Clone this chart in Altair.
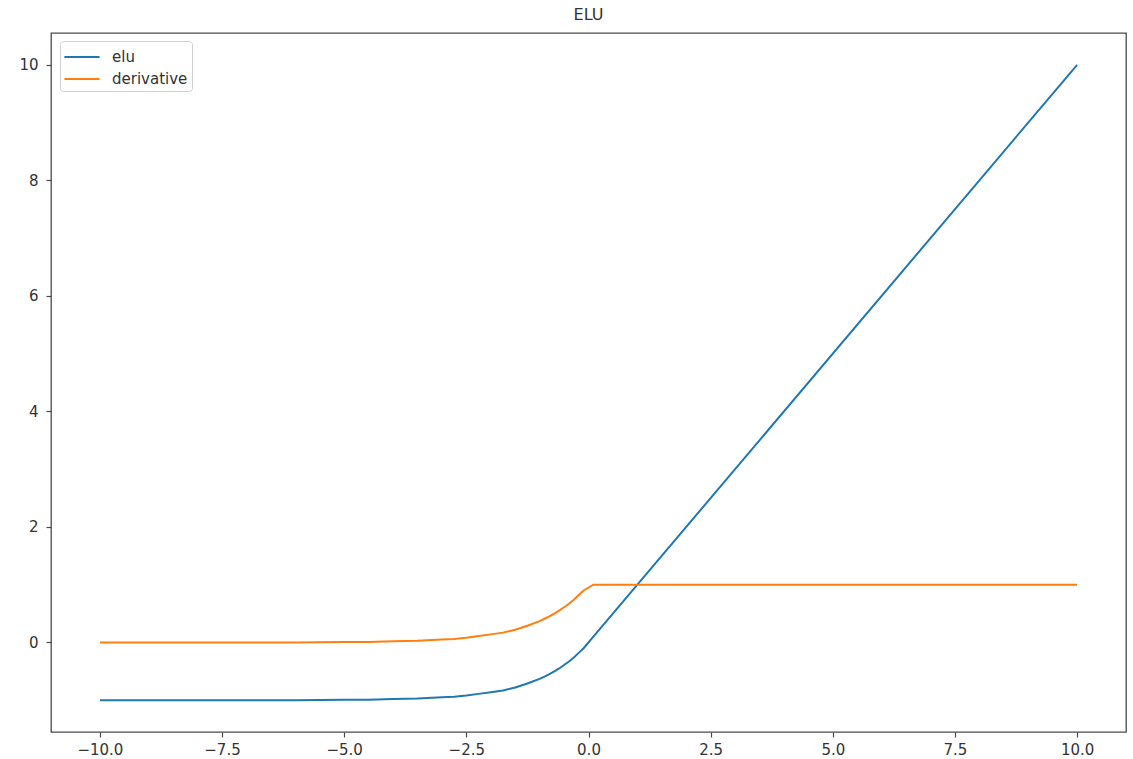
import altair as alt
import pandas as pd

# values
x_vals = [-10, -9, -8, -7, -6, -5, -4.5, -4, -3.5, -3, -2.75, -2.5, -2.25, -2,
          -1.75, -1.5, -1.25, -1, -0.9, -0.8, -0.7, -0.6, -0.5, -0.4, -0.3,
          -0.2, -0.1, 0.1, 10]
elu_vals = [-1.0, -1.0, -1.0, -1.0, -1.0, -0.99, -0.99, -0.98, -0.97, -0.95,
            -0.94, -0.92, -0.89, -0.86, -0.83, -0.78, -0.71, -0.63, -0.59,
            -0.55, -0.50, -0.45, -0.39, -0.33, -0.26, -0.18, -0.10, 0.10, 10.0]
deriv_vals = [0.0, 0.0, 0.0, 0.0, 0.0, 0.01, 0.01, 0.02, 0.03, 0.05, 0.06,
              0.08, 0.11, 0.14, 0.17, 0.22, 0.29, 0.37, 0.41, 0.45, 0.50, 0.55,
              0.61, 0.67, 0.74, 0.82, 0.90, 1.0, 1.0]
series_names = ["elu", "derivative"]
series_colors = ["#1f77b4", "#ff7f0e"]
x_ticks = [-10, -7.5, -5, -2.5, 0, 2.5, 5, 7.5, 10]
y_ticks = [0, 2, 4, 6, 8, 10]

rows = []
for i, xv in enumerate(x_vals):
    rows.append({"x": xv, "y": elu_vals[i], "series": "elu", "order": 0})
    rows.append({"x": xv, "y": deriv_vals[i], "series": "derivative", "order": 1})
df = pd.DataFrame(rows)

FONT = "DejaVu Sans"
FRAME = "#4a4a4a"

chart = alt.Chart(df).mark_line(strokeWidth=2).encode(
    x=alt.X("x:Q", scale=alt.Scale(domain=[-11, 11], nice=False, zero=False),
            axis=alt.Axis(values=x_ticks, format=".1f", title=None, grid=False,
                          domain=False, tickSize=5, tickColor=FRAME, tickWidth=1.2,
                          labelColor="#333", labelFontSize=15, labelFont=FONT,
                          labelPadding=5, labelFlush=False)),
    y=alt.Y("y:Q", scale=alt.Scale(domain=[-1.55, 10.55], nice=False, zero=False),
            axis=alt.Axis(values=y_ticks, format="d", title=None, grid=False,
                          domain=False, tickSize=5, tickColor=FRAME, tickWidth=1.2,
                          labelColor="#333", labelFontSize=15, labelFont=FONT,
                          labelPadding=8)),
    color=alt.Color("series:N",
                    scale=alt.Scale(domain=series_names, range=series_colors),
                    legend=alt.Legend(title=None, orient="none", legendX=9, legendY=8,
                                      symbolType="M-1.6,0L1.6,0", symbolSize=484,
                                      symbolStrokeWidth=2, symbolOffset=6,
                                      labelFontSize=15,
                                      labelFont=FONT, labelColor="#333",
                                      labelOffset=18, rowPadding=2, padding=4,
                                      strokeColor="#d0d0d0", fillColor="white",
                                      cornerRadius=3)),
    detail="series:N",
    order="order:Q",
).properties(
    width=1075,
    height=699,
    title=alt.TitleParams("ELU", fontSize=16, font=FONT, fontWeight="normal",
                          color="#333", offset=10),
    autosize=alt.AutoSizeParams(type="none"),
    padding={"left": 51, "top": 33, "right": 7, "bottom": 27},
).configure(background="white").configure_view(stroke=FRAME, strokeWidth=1.3)

chart.save("out.html", embed_options={"renderer": "svg", "actions": False})
